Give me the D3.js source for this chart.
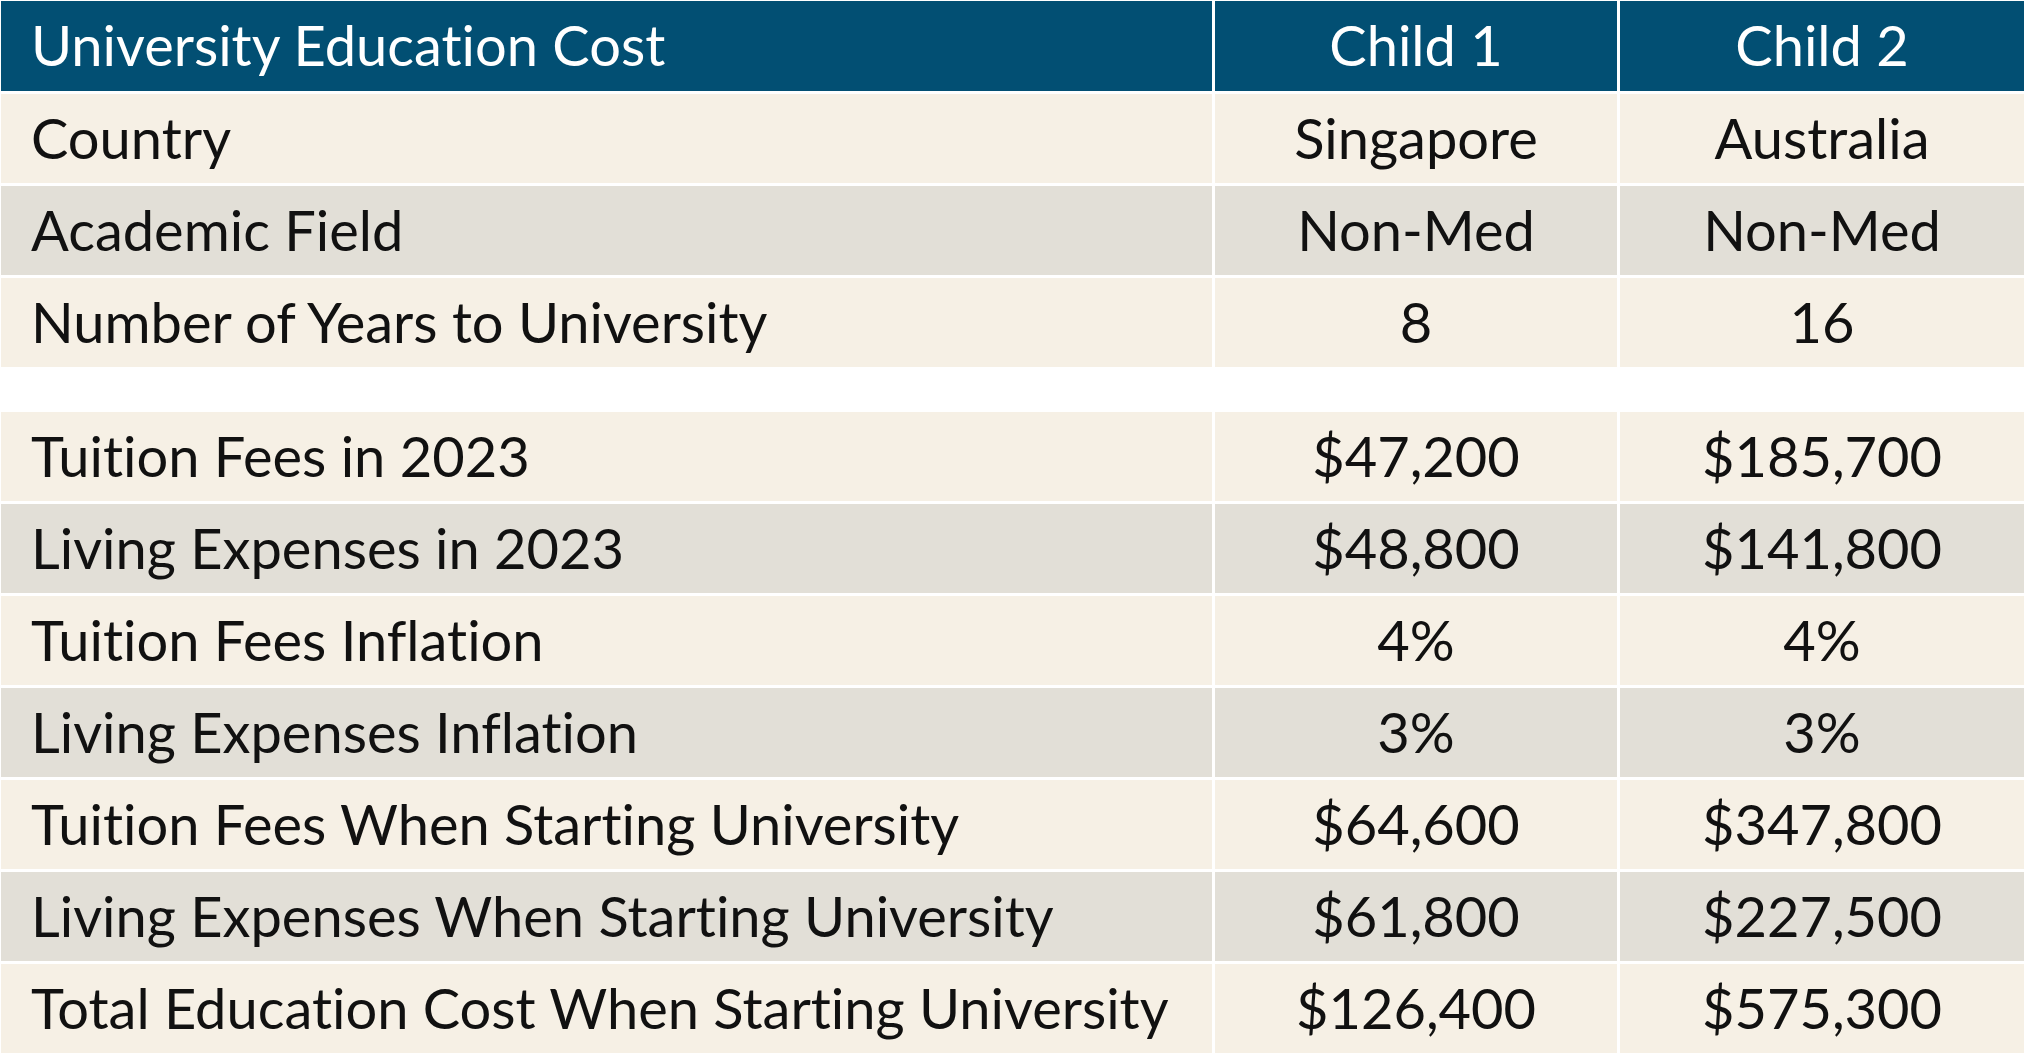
<!DOCTYPE html>
<html>
<head>
<meta charset="utf-8">
<script src="https://cdn.jsdelivr.net/npm/d3@7"></script>
<style>
  html, body { margin: 0; padding: 0; background: #ffffff; }
  svg { display: block; }
  text { font-variant-ligatures: none; font-feature-settings: "liga" 0, "dlig" 0, "clig" 0; }
</style>
</head>
<body>
<svg id="chart" width="2024" height="1056"></svg>
<script>
// ---- data ----
const headers = ["University Education Cost", "Child 1", "Child 2"];
const rowLabels = [
  "Country",
  "Academic Field",
  "Number of Years to University",
  "Tuition Fees in 2023",
  "Living Expenses in 2023",
  "Tuition Fees Inflation",
  "Living Expenses Inflation",
  "Tuition Fees When Starting University",
  "Living Expenses When Starting University",
  "Total Education Cost When Starting University"
];
const child1 = ["Singapore", "Non-Med", "8", "$47,200", "$48,800", "4%", "3%", "$64,600", "$61,800", "$126,400"];
const child2 = ["Australia", "Non-Med", "16", "$185,700", "$141,800", "4%", "3%", "$347,800", "$227,500", "$575,300"];
const sectionBreak = 3; // rows before the blank separator

// ---- layout ----
const colEdges = [1, 1212, 1215, 1617, 1620, 2024];
const headerTop = 1, headerH = 90;
const bodyTop = 94, pitch = 92, rowH = 89, sectionGap = 42;
const fontSize = 56, capH = 0.7165 * fontSize, xScaleText = 1.0;
const colors = {
  header: "#024f73",
  cream: "#f6f0e5",
  grey: "#e2dfd7",
  text: "#111111"
};
const fontFamily = "Lato, 'Open Sans', sans-serif";

const svg = d3.select("#chart");

// column scale: each column's [x0, x1]
const xCol = d3.scaleOrdinal().domain([0, 1, 2]).range([[colEdges[0], colEdges[1]], [colEdges[2], colEdges[3]], [colEdges[4], colEdges[5]]]);
// row scale
const rowIdx = d3.range(rowLabels.length);
const yBand = d3.scaleLinear().domain([0, 1]).range([bodyTop, bodyTop + pitch]);
const yRow = i => yBand(i) + (i >= sectionBreak ? sectionGap : 0);

// row shading: alternate within each section, each section starting cream
const fillFor = i => {
  const k = i < sectionBreak ? i : i - sectionBreak;
  return k % 2 === 0 ? colors.cream : colors.grey;
};

// header cells
const hdr = svg.append("g").attr("class", "header");
hdr.selectAll("rect").data(headers).join("rect")
  .attr("x", (d, j) => xCol(j)[0])
  .attr("y", headerTop)
  .attr("width", (d, j) => xCol(j)[1] - xCol(j)[0])
  .attr("height", headerH)
  .attr("fill", colors.header);

function placeText(sel, j, top, h) {
  const [x0, x1] = xCol(j);
  const tx = j === 0 ? x0 + 30 : (x0 + x1) / 2;
  const ty = top + h / 2 + capH / 2;
  sel.attr("transform", `translate(${tx},${ty}) scale(${xScaleText},1)`)
    .attr("text-anchor", j === 0 ? "start" : "middle");
}

hdr.selectAll("text").data(headers).join("text")
  .each(function(d, j) { placeText(d3.select(this), j, headerTop, headerH); })
  .attr("font-family", fontFamily)
  .attr("font-size", fontSize)
  .attr("fill", "#ffffff")
  .text(d => d);

// body rows
const rows = svg.append("g").attr("class", "body")
  .selectAll("g").data(rowIdx).join("g");

const cells = rows.selectAll("g.cell")
  .data(i => [rowLabels[i], child1[i], child2[i]].map((v, j) => ({ v, j, i })))
  .join("g").attr("class", "cell");

cells.append("rect")
  .attr("x", d => xCol(d.j)[0])
  .attr("y", d => yRow(d.i))
  .attr("width", d => xCol(d.j)[1] - xCol(d.j)[0])
  .attr("height", rowH)
  .attr("fill", d => fillFor(d.i));

cells.append("text")
  .each(function(d) { placeText(d3.select(this), d.j, yRow(d.i), rowH); })
  .attr("font-family", fontFamily)
  .attr("font-size", fontSize)
  .attr("fill", colors.text)
  .text(d => d.v);
</script>
</body>
</html>
